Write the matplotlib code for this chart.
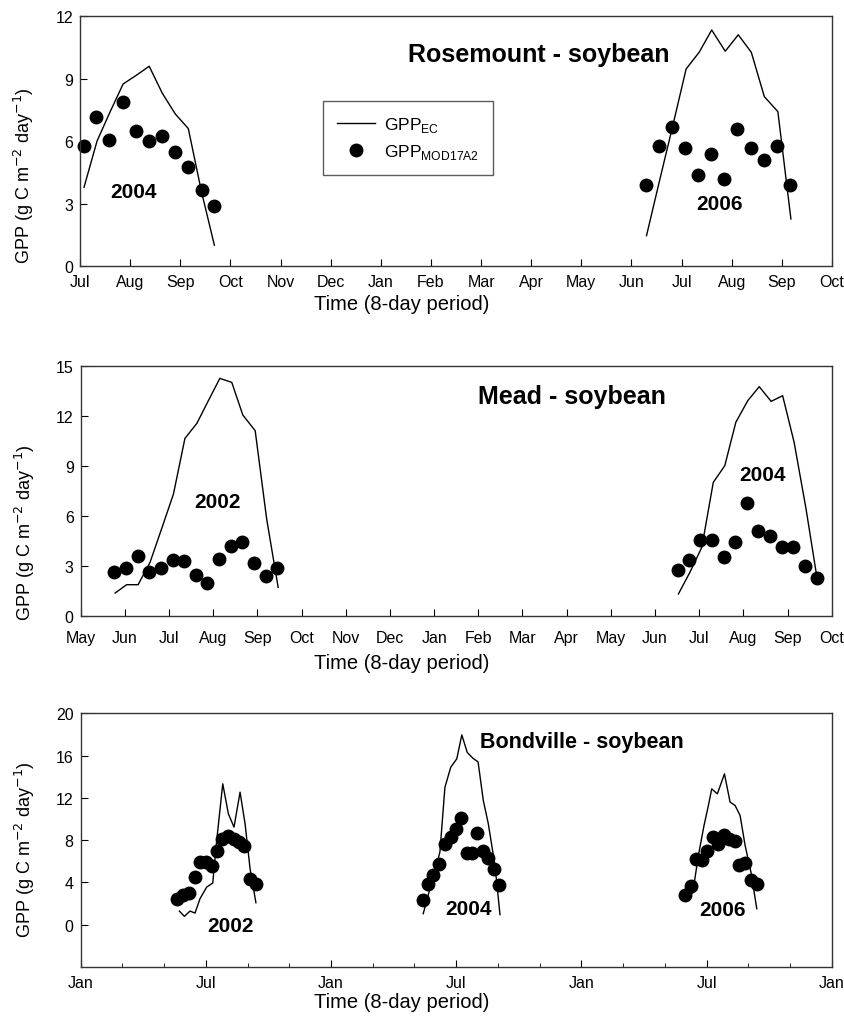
import matplotlib.pyplot as plt
import numpy as np

plt.rcParams['font.family'] = ['Liberation Sans', 'DejaVu Sans']

# x values are months counted from the left edge of each panel

# Rosemount - soybean
ros04_ec_x = [0.08, 0.34, 0.60, 0.86, 1.12, 1.38, 1.64, 1.90, 2.16, 2.42, 2.68]
ros04_ec_y = [3.78, 6.0, 7.4, 8.74, 9.15, 9.59, 8.3, 7.3, 6.6, 3.6, 1.0]
ros04_mod_x = [0.07, 0.32, 0.58, 0.85, 1.12, 1.38, 1.64, 1.90, 2.16, 2.43, 2.68]
ros04_mod_y = [5.78, 7.14, 6.06, 7.86, 6.50, 5.98, 6.23, 5.49, 4.77, 3.65, 2.90]
ros06_ec_x = [11.30, 11.56, 11.83, 12.09, 12.35, 12.60, 12.87, 13.13, 13.39, 13.65, 13.92, 14.18]
ros06_ec_y = [1.46, 4.1, 6.8, 9.46, 10.26, 11.33, 10.31, 11.10, 10.26, 8.13, 7.41, 2.26]
ros06_mod_x = [11.28, 11.54, 11.80, 12.07, 12.33, 12.59, 12.85, 13.11, 13.38, 13.64, 13.90, 14.16]
ros06_mod_y = [3.90, 5.78, 6.66, 5.66, 4.37, 5.38, 4.18, 6.58, 5.65, 5.10, 5.78, 3.89]

# Mead - soybean
mead02_ec_x = [0.78, 1.04, 1.30, 1.57, 1.83, 2.10, 2.36, 2.63, 2.89, 3.15, 3.42, 3.67, 3.95, 4.21, 4.47]
mead02_ec_y = [1.36, 1.86, 1.86, 3.2, 5.2, 7.3, 10.64, 11.54, 12.9, 14.24, 14.0, 12.04, 11.1, 5.8, 1.70]
mead02_mod_x = [0.76, 1.03, 1.29, 1.55, 1.82, 2.08, 2.35, 2.61, 2.87, 3.14, 3.40, 3.66, 3.92, 4.19, 4.44]
mead02_mod_y = [2.64, 2.84, 3.60, 2.64, 2.84, 3.36, 3.26, 2.44, 1.96, 3.40, 4.20, 4.40, 3.16, 2.40, 2.84]
mead04_ec_x = [13.53, 13.79, 14.06, 14.32, 14.58, 14.83, 15.10, 15.36, 15.63, 15.89, 16.15, 16.42, 16.66]
mead04_ec_y = [1.30, 2.60, 4.10, 8.0, 9.0, 11.6, 12.9, 13.74, 12.86, 13.2, 10.4, 6.4, 2.40]
mead04_mod_x = [13.51, 13.77, 14.03, 14.30, 14.56, 14.82, 15.08, 15.34, 15.61, 15.87, 16.13, 16.39, 16.66]
mead04_mod_y = [2.76, 3.32, 4.56, 4.56, 3.54, 4.44, 6.76, 5.08, 4.80, 4.14, 4.14, 3.0, 2.24]

# Bondville - soybean
bond02_ec_x = [4.73, 4.97, 5.24, 5.48, 5.72, 6.04, 6.33, 6.52, 6.81, 7.08, 7.35, 7.64, 7.88, 8.12, 8.40]
bond02_ec_y = [1.29, 0.79, 1.29, 1.1, 2.46, 3.56, 3.94, 7.97, 13.33, 10.49, 9.23, 12.54, 9.55, 5.29, 2.08]
bond02_mod_x = [4.63, 4.89, 5.19, 5.48, 5.72, 5.99, 6.28, 6.52, 6.79, 7.08, 7.35, 7.60, 7.84, 8.12, 8.40]
bond02_mod_y = [2.39, 2.77, 3.02, 4.51, 5.93, 5.93, 5.6, 7.02, 8.13, 8.35, 8.13, 7.82, 7.40, 4.35, 3.88]
bond04_ec_x = [16.42, 16.69, 16.95, 17.22, 17.46, 17.74, 18.03, 18.27, 18.53, 18.80, 19.05, 19.30, 19.54, 19.86, 20.10]
bond04_ec_y = [1.04, 3.02, 4.88, 6.87, 13.0, 14.9, 15.7, 17.96, 16.3, 15.75, 15.4, 11.75, 9.55, 5.6, 0.95]
bond04_mod_x = [16.39, 16.66, 16.90, 17.19, 17.46, 17.74, 17.99, 18.23, 18.50, 18.77, 19.01, 19.27, 19.54, 19.81, 20.07]
bond04_mod_y = [2.30, 3.87, 4.66, 5.70, 7.66, 8.29, 9.07, 10.11, 6.77, 6.77, 8.70, 7.02, 6.30, 5.23, 3.72]
bond06_ec_x = [29.34, 29.61, 29.88, 30.09, 30.25, 30.52, 30.86, 31.13, 31.37, 31.61, 31.85, 32.13, 32.41]
bond06_ec_y = [3.0, 6.55, 9.38, 11.28, 12.85, 12.38, 14.27, 11.6, 11.28, 10.33, 7.50, 4.98, 1.51]
bond06_mod_x = [28.97, 29.24, 29.50, 29.77, 30.04, 30.30, 30.57, 30.84, 31.09, 31.37, 31.57, 31.85, 32.13, 32.41]
bond06_mod_y = [2.77, 3.62, 6.24, 6.14, 6.97, 8.29, 7.66, 8.51, 8.13, 7.88, 5.61, 5.86, 4.25, 3.88]

ros_months = ['Jul', 'Aug', 'Sep', 'Oct', 'Nov', 'Dec', 'Jan', 'Feb', 'Mar', 'Apr',
              'May', 'Jun', 'Jul', 'Aug', 'Sep', 'Oct']
mead_months = ['May', 'Jun', 'Jul', 'Aug', 'Sep', 'Oct', 'Nov', 'Dec', 'Jan', 'Feb',
               'Mar', 'Apr', 'May', 'Jun', 'Jul', 'Aug', 'Sep', 'Oct']
bond_months = ['Jan', 'Jul', 'Jan', 'Jul', 'Jan', 'Jul', 'Jan']

fig = plt.figure(figsize=(8.44, 10.2), dpi=100)
ax1 = fig.add_axes([0.0948, 0.7382, 0.891, 0.2451])
ax2 = fig.add_axes([0.0956, 0.3954, 0.8898, 0.2451])
ax3 = fig.add_axes([0.0956, 0.0510, 0.8898, 0.2487])

ylab = 'GPP (g C m$^{-2}$ day$^{-1}$)'
dot = dict(marker='o', color='black', linestyle='none', markersize=9)
line = dict(color='black', linewidth=1.0)
yearfont = dict(fontsize=15, fontweight='bold', ha='center', va='center')


def style(ax, xpad=6):
    ax.tick_params(axis='both', which='both', direction='in', labelsize=11.5,
                   top=False, right=False)
    ax.tick_params(axis='y', which='major', length=5, pad=5)
    ax.tick_params(axis='x', which='major', length=5, pad=xpad)
    ax.tick_params(axis='x', which='minor', length=3)
    for s in ax.spines.values():
        s.set_linewidth(1.0)
        s.set_color('#333333')
    ax.set_ylabel(ylab, fontsize=13)
    ax.set_xlabel('Time (8-day period)', fontsize=14.5)


# panel 1
ax1.plot(ros04_ec_x, ros04_ec_y, **line, label='GPP$_{\\mathregular{EC}}$')
ax1.plot(ros04_mod_x, ros04_mod_y, **dot, label='GPP$_{\\mathregular{MOD17A2}}$', clip_on=False)
ax1.plot(ros06_ec_x, ros06_ec_y, **line)
ax1.plot(ros06_mod_x, ros06_mod_y, **dot)
ax1.set_xlim(0, 15)
ax1.set_ylim(0, 12)
ax1.set_yticks([0, 3, 6, 9, 12])
ax1.set_xticks(np.arange(len(ros_months)))
ax1.set_xticklabels(ros_months)
style(ax1, xpad=6)
ax1.text(1.07, 3.6, '2004', **yearfont)
ax1.text(12.75, 2.98, '2006', **yearfont)
ax1.text(0.61, 0.85, 'Rosemount - soybean', transform=ax1.transAxes, fontsize=18,
         fontweight='bold', ha='center', va='center')
leg = ax1.legend(loc='upper left', bbox_to_anchor=(0.323, 0.66), borderaxespad=0,
                 frameon=True, fancybox=False, edgecolor='#333333', fontsize=12.5,
                 handlelength=2.2, borderpad=0.8, labelspacing=0.45, handletextpad=0.5)
leg.get_frame().set_linewidth(1.0)

# panel 2
ax2.plot(mead02_ec_x, mead02_ec_y, **line)
ax2.plot(mead02_mod_x, mead02_mod_y, **dot)
ax2.plot(mead04_ec_x, mead04_ec_y, **line)
ax2.plot(mead04_mod_x, mead04_mod_y, **dot)
ax2.set_xlim(0, 17)
ax2.set_ylim(0, 15)
ax2.set_yticks([0, 3, 6, 9, 12, 15])
ax2.set_xticks(np.arange(len(mead_months)))
ax2.set_xticklabels(mead_months)
style(ax2, xpad=10)
ax2.text(3.09, 6.84, '2002', **yearfont)
ax2.text(15.43, 8.5, '2004', **yearfont)
ax2.text(0.654, 0.88, 'Mead - soybean', transform=ax2.transAxes, fontsize=18,
         fontweight='bold', ha='center', va='center')

# panel 3
ax3.plot(bond02_ec_x, bond02_ec_y, **line)
ax3.plot(bond02_mod_x, bond02_mod_y, **dot)
ax3.plot(bond04_ec_x, bond04_ec_y, **line)
ax3.plot(bond04_mod_x, bond04_mod_y, **dot)
ax3.plot(bond06_ec_x, bond06_ec_y, **line)
ax3.plot(bond06_mod_x, bond06_mod_y, **dot)
ax3.set_xlim(0, 36)
ax3.set_ylim(-4, 20)
ax3.set_yticks([0, 4, 8, 12, 16, 20])
ax3.set_xticks(np.arange(0, 37, 6))
ax3.set_xticklabels(bond_months)
ax3.set_xticks(np.arange(0, 37, 2), minor=True)
style(ax3)
ax3.text(7.16, -0.06, '2002', **yearfont)
ax3.text(18.61, 1.58, '2004', **yearfont)
ax3.text(30.79, 1.45, '2006', **yearfont)
ax3.text(0.668, 0.89, 'Bondville - soybean', transform=ax3.transAxes, fontsize=15.5,
         fontweight='bold', ha='center', va='center')

# axis label placement as in the original
ax1.yaxis.set_label_coords(-0.058, 0.364)
ax2.yaxis.set_label_coords(-0.058, 0.335)
ax3.yaxis.set_label_coords(-0.058, 0.465)
ax1.xaxis.set_label_coords(0.428, -0.112)
ax2.xaxis.set_label_coords(0.428, -0.148)
ax3.xaxis.set_label_coords(0.428, -0.1)

plt.savefig('out.png', dpi=100)
